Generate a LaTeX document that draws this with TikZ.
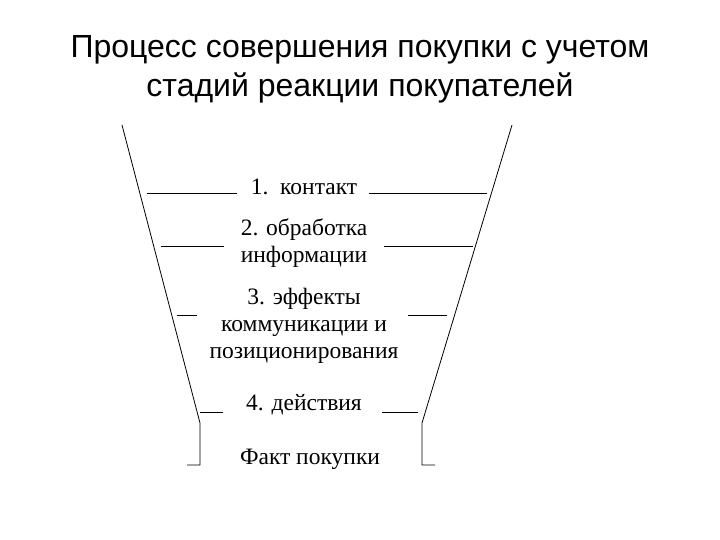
\documentclass[tikz,border=0pt]{standalone}
\usepackage{fontspec}
\setmainfont{Liberation Serif}
\newfontfamily\titlefont{Liberation Sans}
\begin{document}
\begin{tikzpicture}[x=1pt,y=-1pt,
  funnel/.style={draw=black,line width=0.8pt},
  ttl/.style={font=\titlefont\fontsize{32}{38}\selectfont,align=center,inner sep=0pt},
  lbl/.style={font=\fontsize{23.5}{27}\selectfont,align=center,inner sep=0pt}]
\useasboundingbox (0,0) rectangle (720,540);
% title
\node[ttl] (t1) at (360,50) {Процесс совершения покупки с учетом};
\node[ttl] (t2) at (360,88) {стадий реакции покупателей};
% funnel outline
\coordinate (lt) at (122,125);
\coordinate (lb) at (200,423);
\coordinate (lv) at (200,465);
\coordinate (lh) at (187,465);
\coordinate (rt) at (512,125);
\coordinate (rb) at (422,423);
\coordinate (rv) at (422,465);
\coordinate (rh) at (435,465);
\draw[funnel] (lt) -- (lb) -- (lv) -- (lh);
\draw[funnel] (rt) -- (rb) -- (rv) -- (rh);
% labels
\node[lbl] (s1) at (304,187) {1.\ \ контакт};
\node[lbl] (s2) at (304,243) {2. обработка\\информации};
\node[lbl] (s3) at (304,326) {3. эффекты\\коммуникации и\\позиционирования};
\node[lbl] (s4) at (304,405) {4. действия};
\node[lbl] (s5) at (310,459) {Факт покупки};
% dividers
\coordinate (a1) at (147,193); \coordinate (b1) at (237,193);
\coordinate (c1) at (369,193); \coordinate (d1) at (487,193);
\coordinate (a2) at (161,246); \coordinate (b2) at (224,246);
\coordinate (c2) at (384,246); \coordinate (d2) at (473,246);
\coordinate (a3) at (177,315); \coordinate (b3) at (197,315);
\coordinate (c3) at (408,315); \coordinate (d3) at (447,315);
\coordinate (a4) at (200,412); \coordinate (b4) at (223,412);
\coordinate (c4) at (382,412); \coordinate (d4) at (418,412);
\foreach \i in {1,2,3,4}{
  \draw[funnel] (a\i) -- (b\i);
  \draw[funnel] (c\i) -- (d\i);
}
\end{tikzpicture}
\end{document}
